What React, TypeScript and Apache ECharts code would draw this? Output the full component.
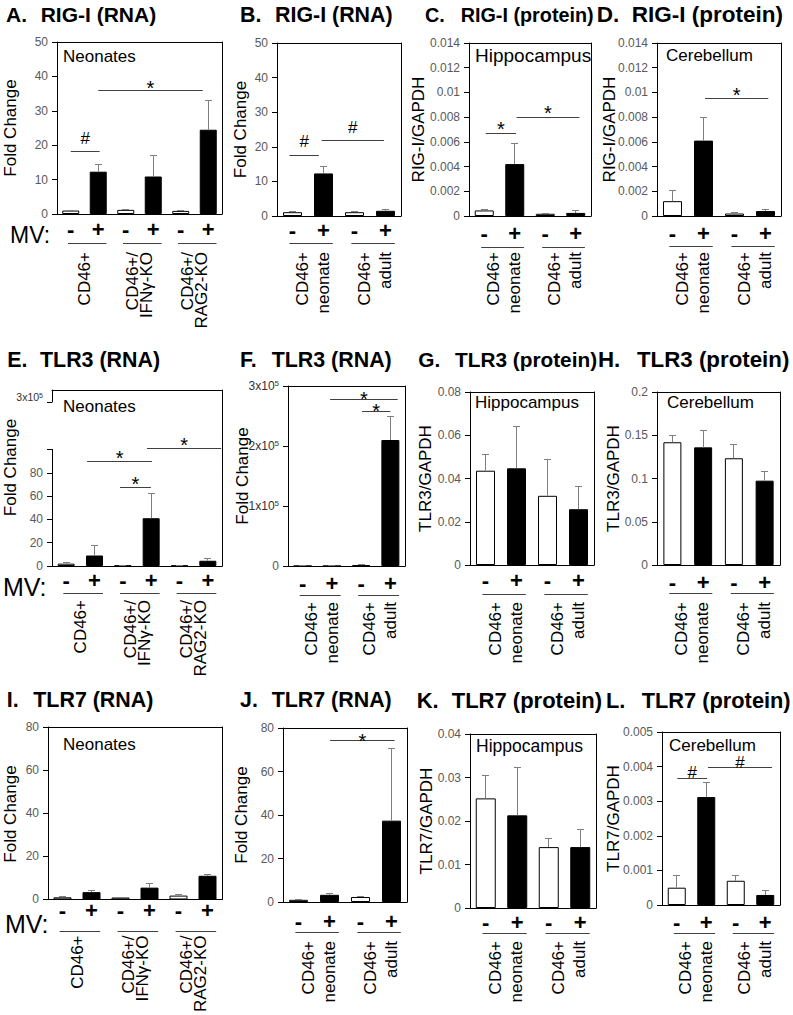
import React, { useEffect, useRef } from "react";
import * as echarts from "echarts";

const FONT = "'Liberation Sans', Arial, Helvetica, sans-serif";
const TICK_GRAY = "#595959";
const ERR_GRAY = "#7f7f7f";
const SIG_COLOR = "#404040";

// ---------------- data ----------------
const mvSigns4 = ["-", "+", "-", "+"];
const mvSigns6 = ["-", "+", "-", "+", "-", "+"];
const koGroups = ["CD46+", "CD46+/\nIFNγ-KO", "CD46+/\nRAG2-KO"];
const ageGroups = ["CD46+\nneonate", "CD46+\nadult"];

// RIG-I
const rigRnaKoMean = [1.0, 12.3, 1.2, 10.9, 0.9, 24.5];
const rigRnaKoErr = [1.1, 14.3, 1.4, 17.1, 1.0, 33.0];
const rigRnaKoSig: [number, number, number, string][] = [[0, 1.05, 18.3, "#"], [1, 4.8, 36, "*"]];

const rigRnaAgeMean = [1.1, 12.3, 1.1, 1.5];
const rigRnaAgeErr = [1.2, 14.2, 1.2, 1.9];
const rigRnaAgeSig: [number, number, number, string][] = [[-0.1, 0.85, 17.6, "#"], [0.94, 2.95, 21.7, "#"]];

const rigHipMean = [0.00045, 0.0042, 0.00018, 0.00025];
const rigHipErr = [0.00055, 0.0059, 0.00022, 0.00042];
const rigHipSig: [number, number, number, string][] = [[0.05, 1.04, 0.0067, "*"], [1.06, 3.12, 0.008, "*"]];

const rigCerMean = [0.0012, 0.0061, 0.0002, 0.0004];
const rigCerErr = [0.0021, 0.008, 0.0003, 0.00055];
const rigCerSig: [number, number, number, string][] = [[1.05, 3.09, 0.0095, "*"]];

// TLR3
const tlr3RnaKoMean = [2.0, 9.0, 0.3, 41.0, 0.3, 4.5];
const tlr3RnaKoErr = [3.0, 17.5, 0.4, 62.0, 0.4, 6.5];
const tlr3RnaKoSig: [number, number, number, string][] = [[0.74, 3.03, 89.3, "*"], [1.9, 2.99, 67.5, "*"], [2.85, 5.47, 101, "*"]];

const tlr3RnaAgeMean = [2, 9, 1200, 210000];
const tlr3RnaAgeErr = [3, 17.5, 2000, 250000];
const tlr3RnaAgeSig: [number, number, number, string][] = [[0.94, 3.25, 278000, "*"], [2.03, 3.0, 258000, "*"]];

const tlr3HipMean = [0.0436, 0.0447, 0.032, 0.0258];
const tlr3HipErr = [0.0513, 0.064, 0.0489, 0.0365];

const tlr3CerMean = [0.1419, 0.136, 0.1234, 0.0975];
const tlr3CerErr = [0.1495, 0.156, 0.1395, 0.108];

// TLR7
const tlr7RnaKoMean = [1.0, 3.4, 0.9, 5.5, 1.8, 11.0];
const tlr7RnaKoErr = [1.2, 4.0, 1.0, 7.5, 2.1, 11.7];

const tlr7RnaAgeMean = [1.0, 3.3, 2.3, 37.4];
const tlr7RnaAgeErr = [1.2, 3.9, 2.6, 70.7];
const tlr7RnaAgeSig: [number, number, number, string][] = [[1.02, 3.1, 74.3, "*"]];

const tlr7HipMean = [0.0252, 0.0213, 0.014, 0.014];
const tlr7HipErr = [0.0305, 0.0322, 0.016, 0.018];

const tlr7CerMean = [0.0005, 0.00312, 0.0007, 0.00029];
const tlr7CerErr = [0.00084, 0.00353, 0.00084, 0.00041];
const tlr7CerSig: [number, number, number, string][] = [[0.02, 1.03, 0.00366, "#"], [1.06, 3.23, 0.00396, "#"]];

// ---------------- layout ----------------
interface PanelCfg {
  letter: string; name: string; lx: number; nx: number; ty: number; tfs: number;
  yLabel: string; yLabelX: number; yLabelY?: number;
  box: [number, number, number, number];
  yMax: number; yStep: number;
  means: number[]; errs: number[]; signs: string[]; groups: string[];
  sig?: [number, number, number, string][]; starDy?: number; hashDy?: number;
  inside?: [string, number, number, number];
  mv?: [number, number, number];
  signMargin: number; groupTop: number; ulDy: number; barW: number;
  fmt?: string; broken?: [number, number];
}

const panels: PanelCfg[] = [
  { letter: "A.", name: "RIG-I (RNA)", lx: 6, nx: 40.7, ty: 14.5, tfs: 21, yLabel: "Fold Change", yLabelX: 10.5,
    box: [57, 42, 222, 214], yMax: 50, yStep: 10, means: rigRnaKoMean, errs: rigRnaKoErr, signs: mvSigns6, groups: koGroups,
    sig: rigRnaKoSig, starDy: -8, hashDy: -13, inside: ["Neonates", 6, 14.7, 17], mv: [10, 235, 23],
    signMargin: 4, groupTop: 252, ulDy: 29, barW: 17 },
  { letter: "B.", name: "RIG-I (RNA)", lx: 240, nx: 275, ty: 14.5, tfs: 21.4, yLabel: "Fold Change", yLabelX: 240.5,
    box: [277, 43, 401, 216], yMax: 50, yStep: 10, means: rigRnaAgeMean, errs: rigRnaAgeErr, signs: mvSigns4, groups: ageGroups,
    sig: rigRnaAgeSig, starDy: -8, hashDy: -13.5, signMargin: 3, groupTop: 252, ulDy: 27, barW: 19 },
  { letter: "C.", name: "RIG-I (protein)", lx: 425, nx: 460.7, ty: 14.5, tfs: 19.8, yLabel: "RIG-I/GAPDH", yLabelX: 418,
    box: [469, 43, 591, 216], yMax: 0.014, yStep: 0.002, means: rigHipMean, errs: rigHipErr, signs: mvSigns4, groups: ageGroups,
    sig: rigHipSig, starDy: -10, inside: ["Hippocampus", 6, 12, 19], signMargin: 6, groupTop: 252, ulDy: 31, barW: 19 },
  { letter: "D.", name: "RIG-I (protein)", lx: 596.7, nx: 631.7, ty: 14.5, tfs: 22.5, yLabel: "RIG-I/GAPDH", yLabelX: 609,
    box: [657, 43, 781, 216], yMax: 0.014, yStep: 0.002, means: rigCerMean, errs: rigCerErr, signs: mvSigns4, groups: ageGroups,
    sig: rigCerSig, starDy: -8.7, inside: ["Cerebellum", 9, 12, 17], signMargin: 6, groupTop: 252, ulDy: 30, barW: 19 },

  { letter: "E.", name: "TLR3 (RNA)", lx: 7.3, nx: 40, ty: 359.7, tfs: 21.4, yLabel: "Fold Change", yLabelX: 10, yLabelY: 467.5,
    box: [52, 390, 222, 566], broken: [402, 449.5], yMax: 100, yStep: 20, means: tlr3RnaKoMean, errs: tlr3RnaKoErr, signs: mvSigns6, groups: koGroups,
    sig: tlr3RnaKoSig, starDy: -9, inside: ["Neonates", 11, 16.7, 17], mv: [3, 587, 25],
    signMargin: 3, groupTop: 600, ulDy: 27, barW: 17 },
  { letter: "F.", name: "TLR3 (RNA)", lx: 240, nx: 271.7, ty: 359.7, tfs: 21.4, yLabel: "Fold Change", yLabelX: 242.5,
    box: [288, 386, 405, 566], yMax: 300000, yStep: 100000, fmt: "sci", means: tlr3RnaAgeMean, errs: tlr3RnaAgeErr, signs: mvSigns4, groups: ageGroups,
    sig: tlr3RnaAgeSig, starDy: -5.5, signMargin: 6, groupTop: 602, ulDy: 29, barW: 18 },
  { letter: "G.", name: "TLR3 (protein)", lx: 418.3, nx: 455, ty: 359.7, tfs: 20.8, yLabel: "TLR3/GAPDH", yLabelX: 425,
    box: [470, 392, 594, 565], yMax: 0.08, yStep: 0.02, means: tlr3HipMean, errs: tlr3HipErr, signs: mvSigns4, groups: ageGroups,
    inside: ["Hippocampus", 5, 10.7, 17], signMargin: 4, groupTop: 602, ulDy: 29, barW: 19 },
  { letter: "H.", name: "TLR3 (protein)", lx: 598, nx: 637, ty: 359.7, tfs: 22.3, yLabel: "TLR3/GAPDH", yLabelX: 613.5,
    box: [657, 392, 780, 565], yMax: 0.2, yStep: 0.05, means: tlr3CerMean, errs: tlr3CerErr, signs: mvSigns4, groups: ageGroups,
    inside: ["Cerebellum", 10, 10.7, 17], signMargin: 6, groupTop: 602, ulDy: 28, barW: 18 },

  { letter: "I.", name: "TLR7 (RNA)", lx: 6.7, nx: 33.3, ty: 700, tfs: 21.4, yLabel: "Fold Change", yLabelX: 10,
    box: [48, 727, 222, 901], yMax: 80, yStep: 20, means: tlr7RnaKoMean, errs: tlr7RnaKoErr, signs: mvSigns6, groups: koGroups,
    inside: ["Neonates", 15, 17, 17], mv: [5, 924, 25], signMargin: 0, groupTop: 937, ulDy: 32, barW: 18 },
  { letter: "J.", name: "TLR7 (RNA)", lx: 240, nx: 271.7, ty: 700, tfs: 21.4, yLabel: "Fold Change", yLabelX: 241.5,
    box: [283, 728, 407, 902], yMax: 80, yStep: 20, means: tlr7RnaAgeMean, errs: tlr7RnaAgeErr, signs: mvSigns4, groups: ageGroups,
    sig: tlr7RnaAgeSig, starDy: -4.7, signMargin: 8, groupTop: 941, ulDy: 30, barW: 19 },
  { letter: "K.", name: "TLR7 (protein)", lx: 416.7, nx: 451.7, ty: 700, tfs: 22, yLabel: "TLR7/GAPDH", yLabelX: 426.5,
    box: [470, 734, 596, 908], yMax: 0.04, yStep: 0.01, means: tlr7HipMean, errs: tlr7HipErr, signs: mvSigns4, groups: ageGroups,
    inside: ["Hippocampus", 6, 12, 17.5], signMargin: 3, groupTop: 941, ulDy: 25, barW: 20 },
  { letter: "L.", name: "TLR7 (protein)", lx: 606, nx: 641.7, ty: 700, tfs: 21.8, yLabel: "TLR7/GAPDH", yLabelX: 613,
    box: [662, 732, 780, 905], yMax: 0.005, yStep: 0.001, means: tlr7CerMean, errs: tlr7CerErr, signs: mvSigns4, groups: ageGroups,
    sig: tlr7CerSig, hashDy: -5.5, inside: ["Cerebellum", 7, 13, 17], signMargin: 6, groupTop: 941, ulDy: 28, barW: 18 },
];

const crisp = (v: number) => Math.round(v - 0.5) + 0.5;

function buildOption() {
  const grid: any[] = [];
  const xAxis: any[] = [];
  const yAxis: any[] = [];
  const series: any[] = [];
  const graphic: any[] = [];
  const line = { show: true, onZero: false, lineStyle: { color: "#000", width: 1 } };
  const off = { show: false };
  const sciRich = {
    a: { fontSize: 12, lineHeight: 14, color: "#333", fontFamily: FONT },
    s: { fontSize: 8, lineHeight: 8, verticalAlign: "top", color: "#333", fontFamily: FONT },
  };

  const edgeY = (gi: number, position: string) =>
    yAxis.push({ gridIndex: gi, type: "value", position, min: 0, max: 1, axisLine: line, axisTick: off, axisLabel: off, splitLine: off });

  panels.forEach((p) => {
    const [L, T, R, B] = p.box;
    const n = p.means.length;
    const xMin = -0.5;
    const xMax = n - 0.5;
    const ko = n === 6;
    const lowTop = p.broken ? p.broken[1] : T;
    const gi = grid.length;
    grid.push({ left: L, top: lowTop, width: R - L, height: B - lowTop });

    const xi = xAxis.push({
      gridIndex: gi, type: "value", position: "bottom", min: xMin, max: xMax,
      axisLine: line, axisTick: off, splitLine: off,
      axisLabel: {
        customValues: p.means.map((_, i) => i),
        formatter: (v: number) => p.signs[Math.round(v)] || "",
        fontSize: 22, fontWeight: "bold", color: "#000", fontFamily: FONT, margin: p.signMargin, hideOverlap: false,
      },
    }) - 1;
    const shift = ko ? 0 : 0.15;
    xAxis.push({
      gridIndex: gi, type: "value", position: "bottom", min: xMin, max: xMax,
      axisLine: off, axisTick: off, splitLine: off,
      axisLabel: {
        customValues: p.groups.map((_, g) => 2 * g + 0.5 + shift),
        formatter: (v: number) => p.groups[Math.round((v - 0.5 - shift) / 2)] || "",
        rotate: 90, margin: p.groupTop - B,
        fontSize: 17, lineHeight: ko ? 14 : 21, color: "#000", fontFamily: FONT, hideOverlap: false,
      },
    });
    if (!p.broken) {
      xAxis.push({ gridIndex: gi, type: "value", position: "top", min: xMin, max: xMax, axisLine: line, axisTick: off, axisLabel: off, splitLine: off });
    }

    let fmt: any = undefined;
    if (p.fmt === "sci") fmt = (v: number) => (v === 0 ? "0" : `{a|${Math.round(v / 100000)}x10}{s|5}`);
    if (p.broken) fmt = (v: number) => (v >= p.yMax ? "" : String(v));
    const yi = yAxis.push({
      gridIndex: gi, type: "value", position: "left", min: 0, max: p.yMax, interval: p.yStep,
      axisLine: line, axisTick: { show: true, length: 5, lineStyle: { color: "#000" } }, splitLine: off,
      axisLabel: { color: TICK_GRAY, fontSize: 12, fontFamily: FONT, margin: 9, formatter: fmt, rich: sciRich },
    }) - 1;
    edgeY(gi, "right");

    if (p.broken) {
      // upper short segment with the 3x10^5 tick
      const gh = grid.length;
      grid.push({ left: L, top: T, width: R - L, height: p.broken[0] - T });
      xAxis.push({ gridIndex: gh, type: "value", position: "top", min: 0, max: 1, axisLine: line, axisTick: off, axisLabel: off, splitLine: off });
      yAxis.push({
        gridIndex: gh, type: "value", position: "left", min: 0, max: 1,
        axisLine: line, splitLine: off,
        axisTick: { show: true, customValues: [0], length: 5, lineStyle: { color: "#000" } },
        axisLabel: {
          customValues: [0], formatter: () => "{a|3x10}{s|5}", verticalAlign: "bottom", margin: 9,
          rich: { a: { fontSize: 10.5, lineHeight: 10, color: "#333", fontFamily: FONT }, s: { fontSize: 7, lineHeight: 7, verticalAlign: "top", color: "#333", fontFamily: FONT } },
        },
      });
      edgeY(gh, "right");
      // gap: right border only
      const gm = grid.length;
      grid.push({ left: L, top: p.broken[0], width: R - L, height: p.broken[1] - p.broken[0] });
      xAxis.push({ gridIndex: gm, type: "value", show: false, min: 0, max: 1 });
      edgeY(gm, "right");
    }

    // bars
    series.push({
      type: "bar", xAxisIndex: xi, yAxisIndex: yi, barWidth: p.barW, silent: true,
      data: p.means.map((m, i) => ({
        value: [i, m],
        itemStyle: { color: i % 2 ? "#000" : "#fff", borderColor: "#000", borderWidth: 1 },
      })),
    });
    // error bars (upper only)
    series.push({
      type: "custom", xAxisIndex: xi, yAxisIndex: yi, clip: false, silent: true, z: 3,
      data: p.means.map((m, i) => [i, m, p.errs[i]]),
      encode: { x: 0, y: [1, 2] },
      renderItem: (_params: any, api: any) => {
        const a = api.coord([api.value(0), api.value(1)]);
        const b = api.coord([api.value(0), api.value(2)]);
        const x = crisp(a[0]);
        const yb = crisp(b[1]);
        const st = { stroke: ERR_GRAY, lineWidth: 1 };
        return {
          type: "group",
          children: [
            { type: "line", shape: { x1: x, y1: a[1], x2: x, y2: yb }, style: st },
            { type: "line", shape: { x1: x - 3.5, y1: yb, x2: x + 3.5, y2: yb }, style: st },
          ],
        };
      },
    });
    // significance lines
    if (p.sig && p.sig.length) {
      const sigs = p.sig;
      series.push({
        type: "custom", xAxisIndex: xi, yAxisIndex: yi, clip: false, silent: true, z: 4,
        data: sigs.map((s) => [s[0], s[1], s[2]]),
        encode: { x: [0, 1], y: 2 },
        renderItem: (params: any, api: any) => {
          const s = sigs[params.dataIndex];
          const a = api.coord([api.value(0), api.value(2)]);
          const b = api.coord([api.value(1), api.value(2)]);
          const y = crisp(a[1]);
          const star = s[3] === "*";
          const fs = star ? 20 : 17;
          const dy = star ? (p.starDy ?? -8) : (p.hashDy ?? -13);
          const ty = a[1] + dy + (star ? 0.27 * fs : 0);
          return {
            type: "group",
            children: [
              { type: "line", shape: { x1: a[0], y1: y, x2: b[0], y2: y }, style: { stroke: SIG_COLOR, lineWidth: 1 } },
              {
                type: "text",
                style: { text: s[3], x: (a[0] + b[0]) / 2, y: ty, align: "center", verticalAlign: "middle", fontSize: fs, fontFamily: FONT, fill: "#000" },
              },
            ],
          };
        },
      });
    }
    // group underlines
    series.push({
      type: "custom", xAxisIndex: xi, yAxisIndex: yi, clip: false, silent: true,
      data: p.groups.map((_, g) => [2 * g - 0.1, 2 * g + 1.3]),
      encode: { x: [0, 1] },
      renderItem: (_params: any, api: any) => {
        const a = api.coord([api.value(0), 0]);
        const b = api.coord([api.value(1), 0]);
        const y = crisp(a[1] + p.ulDy);
        return { type: "line", shape: { x1: a[0], y1: y, x2: b[0], y2: y }, style: { stroke: SIG_COLOR, lineWidth: 1 } };
      },
    });

    // texts
    graphic.push({
      type: "text", x: p.lx, y: p.ty, z: 100,
      style: { text: p.letter, fontSize: p.tfs, fontWeight: "bold", fontFamily: FONT, fill: "#000", align: "left", verticalAlign: "middle" },
    });
    graphic.push({
      type: "text", x: p.nx, y: p.ty, z: 100,
      style: { text: p.name, fontSize: p.tfs, fontWeight: "bold", fontFamily: FONT, fill: "#000", align: "left", verticalAlign: "middle" },
    });
    graphic.push({
      type: "text", x: p.yLabelX, y: p.yLabelY ?? (T + B) / 2, rotation: Math.PI / 2, z: 100,
      style: { text: p.yLabel, fontSize: 17, fontFamily: FONT, fill: "#000", align: "center", verticalAlign: "middle" },
    });
    if (p.inside) {
      graphic.push({
        type: "text", x: L + p.inside[1], y: T + p.inside[2], z: 100,
        style: { text: p.inside[0], fontSize: p.inside[3], fontFamily: FONT, fill: "#000", align: "left", verticalAlign: "middle" },
      });
    }
    if (p.mv) {
      graphic.push({
        type: "text", x: p.mv[0], y: p.mv[1], z: 100,
        style: { text: "MV:", fontSize: p.mv[2], fontFamily: FONT, fill: "#000", align: "left", verticalAlign: "middle" },
      });
    }
  });

  return {
    animation: false,
    backgroundColor: "#fff",
    textStyle: { fontFamily: FONT },
    grid, xAxis, yAxis, series, graphic,
  };
}

export default function App() {
  const ref = useRef<HTMLDivElement>(null);
  useEffect(() => {
    if (!ref.current) return;
    const chart = echarts.init(ref.current, undefined, { renderer: "svg", width: 793, height: 1015 });
    chart.setOption(buildOption() as any);
    return () => chart.dispose();
  }, []);
  return (
    <div
      ref={ref}
      style={{ position: "fixed", left: 0, top: 0, width: 793, height: 1015, background: "#fff" }}
    />
  );
}
